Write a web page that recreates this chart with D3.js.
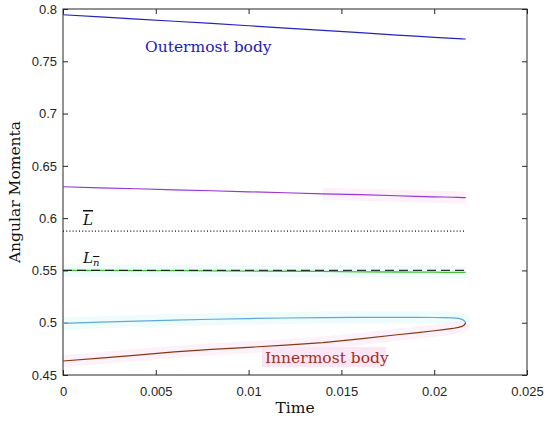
<!DOCTYPE html>
<html>
<head>
<meta charset="utf-8">
<style>
    body { margin: 0; background: white; }
    svg { display: block; }
    .axis text { font-family: 'Liberation Sans', Arial, sans-serif; font-size: 13px; fill: #262626; }
    .axis .domain { display: none; }
    .axis line { stroke: #262626; }
</style>
</head>
<body>
<svg width="550" height="421"></svg>
<script src="https://d3js.org/d3.v7.min.js"></script>
<script>

// sample times
let time = [0, 0.002, 0.004, 0.006, 0.008, 0.010, 0.012, 0.014, 0.016, 0.018, 0.019, 0.020, 0.0205, 0.021, 0.0213, 0.0215, 0.0216, 0.0217];

let outermost = [0.7945, 0.7925, 0.7904, 0.7883, 0.7862, 0.7840, 0.7818, 0.7796, 0.7774, 0.7751, 0.7740, 0.7729, 0.7724, 0.7719, 0.7716, 0.7714, 0.7713, 0.7713];
let second = [0.6300, 0.6290, 0.6281, 0.6271, 0.6262, 0.6252, 0.6243, 0.6233, 0.6224, 0.6214, 0.6209, 0.6204, 0.6202, 0.6200, 0.6198, 0.6197, 0.6196, 0.6196];
let third = [0.5500, 0.5500, 0.5499, 0.5498, 0.5496, 0.5494, 0.5492, 0.5490, 0.5487, 0.5485, 0.5484, 0.5483, 0.5482, 0.5482, 0.5481, 0.5481, 0.5481, 0.5481];
let fourth = [0.4993, 0.5005, 0.5016, 0.5025, 0.5033, 0.5040, 0.5045, 0.5049, 0.5051, 0.5051, 0.5051, 0.5050, 0.5049, 0.5046, 0.5041, 0.5032, 0.5022, 0.4998];
let innermost = [0.4634, 0.4662, 0.4691, 0.4721, 0.4745, 0.4765, 0.4785, 0.4810, 0.4845, 0.4885, 0.4903, 0.4923, 0.4934, 0.4945, 0.4955, 0.4965, 0.4975, 0.4998];

let Lbar = 0.5876;   // dotted
let Lnbar = 0.5500;  // dashed

let xTicks = [0, 0.005, 0.01, 0.015, 0.02, 0.025];
let yTicks = [0.45, 0.5, 0.55, 0.6, 0.65, 0.7, 0.75, 0.8];

let margin = { top: 9, right: 23, bottom: 46, left: 63 };
let width = 550, height = 421;
let serif = "'DejaVu Serif', 'Liberation Serif', serif";

let svg = d3.select("svg");

let x = d3.scaleLinear()
    .domain([0, 0.025])
    .range([margin.left, width - margin.right]);

let y = d3.scaleLinear()
    .domain([0.45, 0.8])
    .range([height - margin.bottom, margin.top]);

let fmt = d => d === 0 ? "0" : String(+d.toFixed(3));

// faint highlight bands seen in the picture
function band(vals, color, t0) {
    let pts = time.map((t, i) => [t, vals[i]]).filter(p => p[0] >= t0);
    svg.append("path")
        .attr("d", d3.line().x(p => x(p[0])).y(p => y(p[1]))(pts))
        .style("fill", "none")
        .style("stroke", color)
        .style("stroke-width", 12)
        .style("opacity", 0.5);
}
band(second, "#fbe3f6", 0.013);
band(third, "#def9fa", 0);
band(fourth, "#def9fa", 0);
band(innermost, "#fbe3f6", 0);

// axes (MATLAB box with inward ticks)
svg.append("g")
    .attr("class", "x axis")
    .attr("transform", `translate(0,${y(0.45)})`)
    .call(d3.axisBottom(x).tickValues(xTicks).tickFormat(fmt).tickSizeInner(-5).tickSizeOuter(0).tickPadding(12));

svg.append("g")
    .attr("class", "x axis")
    .attr("transform", `translate(0,${y(0.8)})`)
    .call(d3.axisTop(x).tickValues(xTicks).tickFormat("").tickSizeInner(-5).tickSizeOuter(0));

svg.append("g")
    .attr("class", "y axis")
    .attr("transform", `translate(${x(0)},0)`)
    .call(d3.axisLeft(y).tickValues(yTicks).tickFormat(fmt).tickSizeInner(-5).tickSizeOuter(0).tickPadding(6));

svg.append("g")
    .attr("class", "y axis")
    .attr("transform", `translate(${x(0.025)},0)`)
    .call(d3.axisRight(y).tickValues(yTicks).tickFormat("").tickSizeInner(-5).tickSizeOuter(0));

svg.append("rect")
    .attr("x", x(0))
    .attr("y", y(0.8))
    .attr("width", x(0.025) - x(0))
    .attr("height", y(0.45) - y(0.8))
    .style("fill", "none")
    .style("stroke", "#262626")
    .style("stroke-width", 1);

let line = d3.line()
    .x((d, i) => x(time[i]))
    .y(d => y(d));

// reference levels
svg.append("line")
    .attr("x1", x(0)).attr("x2", x(time[time.length - 1]))
    .attr("y1", y(Lbar)).attr("y2", y(Lbar))
    .style("stroke", "#111")
    .style("stroke-width", 1.2)
    .style("stroke-dasharray", "1,2.2");

svg.append("path")
    .attr("d", line(third))
    .style("fill", "none")
    .style("stroke", "#44c233")
    .style("stroke-width", 1.3);

svg.append("line")
    .attr("x1", x(0)).attr("x2", x(time[time.length - 1]))
    .attr("y1", y(Lnbar)).attr("y2", y(Lnbar))
    .style("stroke", "#111")
    .style("stroke-width", 1.3)
    .style("stroke-dasharray", "9,5")
    .style("opacity", 0.85);

let series = [
    { vals: outermost, color: "#2323c0" },
    { vals: second, color: "#9a35d6" },
    { vals: fourth, color: "#5fa8dc" },
    { vals: innermost, color: "#8a3810" }
];

series.forEach(s => {
    svg.append("path")
        .attr("d", line(s.vals))
        .style("fill", "none")
        .style("stroke", s.color)
        .style("stroke-width", 1.2)
        .style("stroke-linejoin", "round");
});

// labels
svg.append("text").text("Outermost body")
    .attr("x", 145).attr("y", 52)
    .attr("fill", "#1c1cb8")
    .style("font-family", serif)
    .style("font-size", "15.5px");

svg.append("rect")
    .attr("x", 262).attr("y", 347)
    .attr("width", 124).attr("height", 20)
    .style("fill", "#fbe6f6");

svg.append("text").text("Innermost body")
    .attr("x", 265).attr("y", 363)
    .attr("fill", "#a3301c")
    .style("font-family", serif)
    .style("font-size", "15.5px");

let lb = svg.append("text")
    .attr("x", 83).attr("y", 225)
    .attr("fill", "#111")
    .style("font-family", serif)
    .style("font-style", "italic")
    .style("font-size", "15px");
lb.append("tspan").text("L").style("text-decoration", "overline");

let ln = svg.append("text")
    .attr("x", 83).attr("y", 263)
    .attr("fill", "#111")
    .style("font-family", serif)
    .style("font-style", "italic")
    .style("font-size", "15px");
ln.append("tspan").text("L");
ln.append("tspan").text("n").attr("dy", 3).style("font-size", "10px").style("text-decoration", "overline");

svg.append("text").text("Time")
    .attr("x", (x(0) + x(0.025)) / 2).attr("y", 413)
    .attr("text-anchor", "middle")
    .attr("fill", "#111")
    .style("font-family", serif)
    .style("font-size", "15.5px");

svg.append("text").text("Angular Momenta")
    .attr("transform", `translate(20,${(y(0.45) + y(0.8)) / 2}) rotate(-90)`)
    .attr("text-anchor", "middle")
    .attr("fill", "#111")
    .style("font-family", serif)
    .style("font-size", "15.5px");

</script>
</body>
</html>
